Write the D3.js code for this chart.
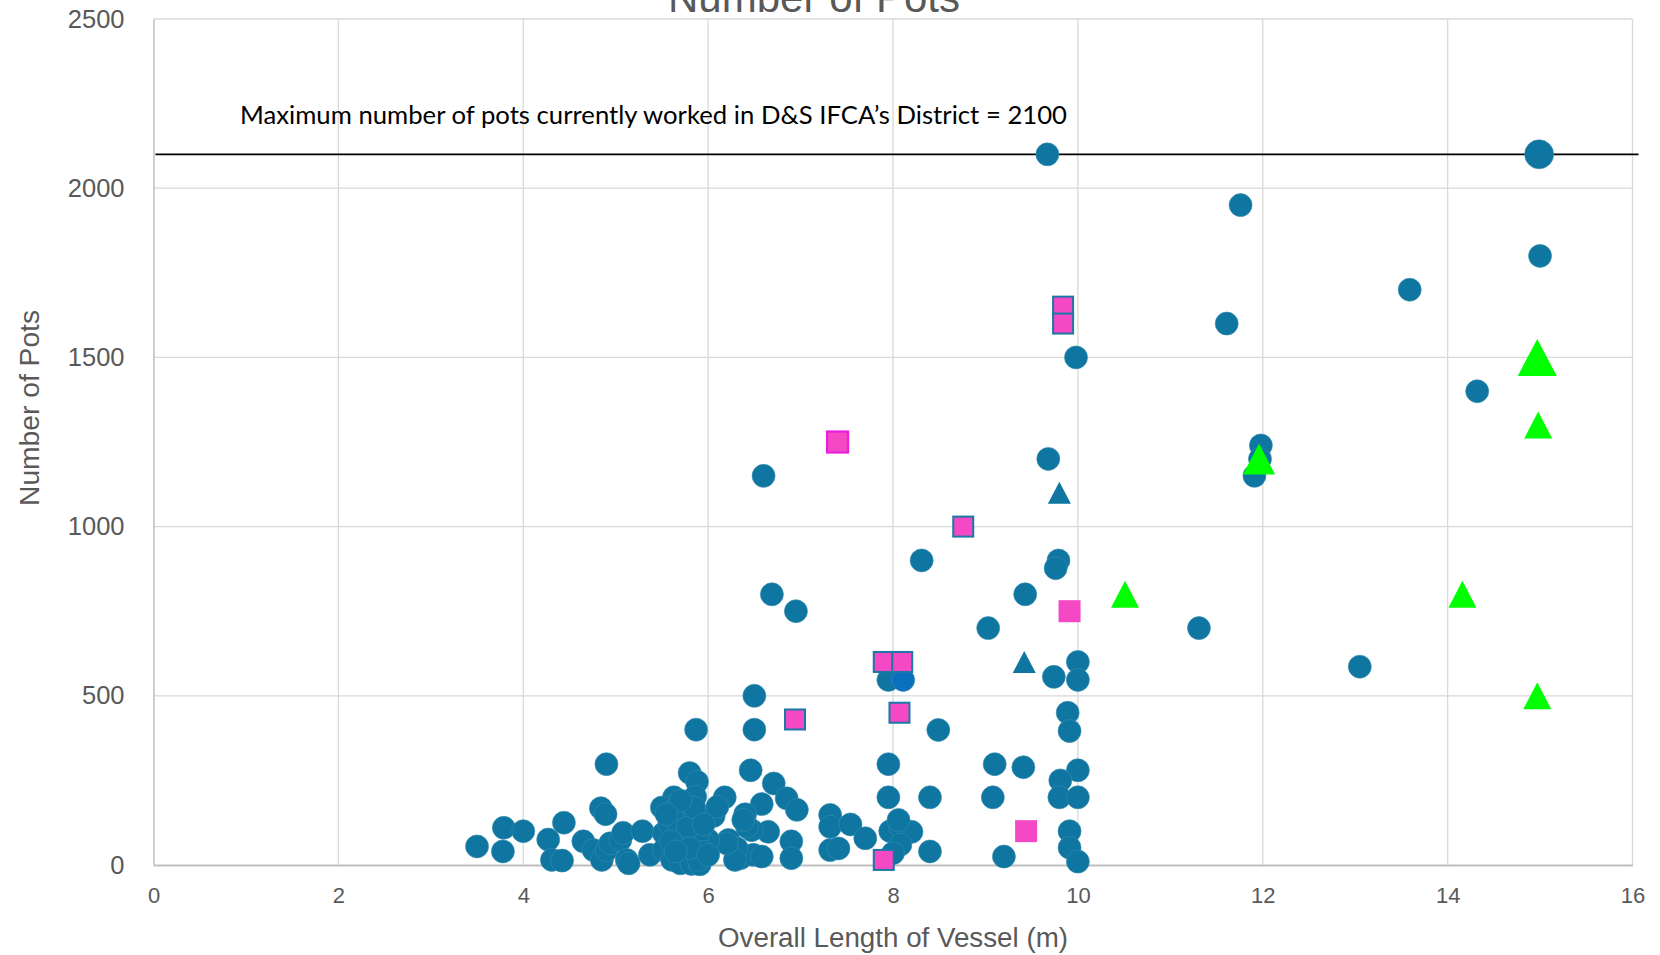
<!DOCTYPE html>
<html>
<head>
<meta charset="utf-8">
<script src="https://cdn.jsdelivr.net/npm/d3@7"></script>
<style>
  html, body { margin: 0; padding: 0; background: #ffffff; }
  svg { display: block; }
</style>
</head>
<body>
<svg id="chart" width="1660" height="955"></svg>
<script>
// Vessel length (m) vs number of pots, one array of [length, pots] per marker series
const potsCircle = [
  [9.67,2100],[11.76,1950],[15,1800],[13.59,1700],[11.61,1600],[9.98,1500],[14.32,1400],
  [11.98,1240],[11.97,1200],[11.91,1150],[9.68,1200],[6.6,1150],
  [8.31,900],[9.79,900],[9.76,877],[9.43,800],[6.69,800],[6.95,750],[9.03,700],[11.31,700],
  [13.05,586],[10,600],[9.74,556],[10,547],[7.95,547],
  [6.5,500],[9.89,450],[9.91,396],[8.49,399],[6.5,400],[5.87,400],
  [4.9,298],[7.95,298],[9.1,298],[9.41,289],[10,280],[6.46,280],[5.8,272],[5.88,246],[9.81,250],[6.71,241],
  [9.8,200],[10,200],[9.08,200],[8.4,200],[7.95,200],[6.18,200],[6.85,197],[5.63,200],[5.86,202],
  [6.96,163],[6.58,180],[6.4,150],[6.06,145],[6.1,172],[5.73,172],[5.5,170],[4.84,168],[4.89,150],
  [9.91,100],[9.91,51],[10,10],[9.2,25],[8.4,40],
  [7.32,148],[7.32,113],[7.54,120],[7.32,44],[7.41,49],[7.7,79],
  [7.97,100],[8.08,113],[8.2,98],[8.08,60],[8.0,35],[8.06,133],
  [6.9,70],[6.9,20],[6.65,98],[6.47,103],[6.22,74],[6.35,20],[6.49,30],[6.58,25],
  [6.42,113],[6.38,133],[6.31,49],[6.29,15],[6.2,64],[6.0,74],
  [3.5,55],[3.78,40],[3.79,110],[4.0,100],[4.27,75],[4.31,15],[4.42,13],[4.44,125],[4.65,70],
  [4.76,44],[4.85,15],[4.9,44],[4.94,64],[5.05,74],[5.08,95],[5.12,15],[5.14,5],[5.29,100],[5.37,30],
  [5.52,94],[5.52,44],[5.61,15],[5.66,133],[5.82,133],[5.9,94],[5.75,64],[5.7,5],[5.82,3],[5.91,2],
  [5.95,39],[5.9,15],[5.58,120],[5.62,160],[5.68,100],[5.78,110],[5.6,70],[5.85,170],[5.7,190],
  [5.95,120],[5.8,50],[5.65,40],[6.0,30],[5.55,150]
];
const potsCircleLarge = [[14.99,2100]];
const potsCircleBlue = [[8.11,547]];
const potsSquare = [[9.84,1650],[9.84,1600],[8.76,1000],[7.9,600],[8.1,600],[6.94,430],[8.07,450],[7.9,15]];
const potsSquarePlain = [[9.91,750],[9.44,100]];
const potsSquareMagenta = [[7.4,1250]];
const potsTriangle = [[9.8,1100],[9.42,600]];
const potsTriangleGreen = [[10.51,800],[14.16,800],[14.97,500],[14.98,1300]];
const potsTriangleGreenMid = [[11.96,1200]];
const potsTriangleGreenLarge = [[14.97,1500]];

const xTicks = [0,2,4,6,8,10,12,14,16];
const yTicks = [0,500,1000,1500,2000,2500];
const maxPots = 2100;

const chartTitle = "Number of Pots";
const xTitle = "Overall Length of Vessel (m)";
const yTitle = "Number of Pots";
const maxLabel = "Maximum number of pots currently worked in D&S IFCA\u2019s District = 2100";

const svg = d3.select("#chart");
const plot = { left: 153.5, right: 1632.5, top: 19, bottom: 865 };

const x = d3.scaleLinear().domain([0,16]).range([plot.left, plot.right]);
const y = d3.scaleLinear().domain([0,2500]).range([plot.bottom, plot.top]);

const grey = "#595959";
const tickFont = "'Liberation Sans', Arial, sans-serif";

// gridlines
const grid = svg.append("g");
grid.selectAll("line.v").data(xTicks.slice(1)).join("line")
  .attr("x1", d => x(d)).attr("x2", d => x(d))
  .attr("y1", plot.top).attr("y2", plot.bottom)
  .attr("stroke", "#d9d9d9").attr("stroke-width", 1.3);
grid.selectAll("line.h").data(yTicks.slice(1)).join("line")
  .attr("x1", plot.left).attr("x2", plot.right)
  .attr("y1", d => y(d)).attr("y2", d => y(d))
  .attr("stroke", "#d9d9d9").attr("stroke-width", 1.3);

// axes
const xAxis = d3.axisBottom(x).tickValues(xTicks).tickSize(0).tickPadding(22).tickFormat(d3.format("d"));
const yAxis = d3.axisLeft(y).tickValues(yTicks).tickSize(0).tickPadding(29).tickFormat(d3.format("d"));

const gx = svg.append("g").attr("transform", `translate(0,${plot.bottom})`).call(xAxis);
gx.select(".domain").attr("stroke", "#bfbfbf").attr("stroke-width", 2);
gx.selectAll("text").attr("fill", grey).attr("font-family", tickFont).attr("font-size", 22)
  .attr("dy", "0.71em");

const gy = svg.append("g").attr("transform", `translate(${plot.left},0)`).call(yAxis);
gy.select(".domain").attr("stroke", "#bfbfbf").attr("stroke-width", 1.5);
gy.selectAll("text").attr("fill", grey).attr("font-family", tickFont).attr("font-size", 25.5);

// maximum pots reference line and label
svg.append("line")
  .attr("x1", plot.left + 2).attr("x2", plot.right + 6)
  .attr("y1", y(maxPots)).attr("y2", y(maxPots))
  .attr("stroke", "#000").attr("stroke-width", 1.6);
svg.append("text")
  .attr("x", 240).attr("y", 124)
  .attr("font-family", "Lato, 'Open Sans', sans-serif").attr("font-size", 25)
  .attr("fill", "#000")
  .attr("textLength", 827).attr("lengthAdjust", "spacingAndGlyphs")
  .text(maxLabel);

// marker layers
const circle = (data, r, fill) => svg.append("g").selectAll("circle").data(data).join("circle")
  .attr("cx", d => x(d[0])).attr("cy", d => y(d[1])).attr("r", r)
  .attr("fill", fill).attr("stroke", "#3b8db0").attr("stroke-width", 0.6);

const square = (data, s, fill, stroke, sw) => svg.append("g").selectAll("rect").data(data).join("rect")
  .attr("x", d => x(d[0]) - s/2).attr("y", d => y(d[1]) - s/2)
  .attr("width", s).attr("height", s)
  .attr("fill", fill).attr("stroke", stroke).attr("stroke-width", sw);

const triangle = (data, w, h, fill) => svg.append("g").selectAll("path").data(data).join("path")
  .attr("d", d => {
    const cx = x(d[0]), cy = y(d[1]);
    return `M${cx},${cy - h/2}L${cx + w/2},${cy + h/2}L${cx - w/2},${cy + h/2}Z`;
  })
  .attr("fill", fill);

circle(potsCircle, 11.5, "#0e76a0");
circle(potsCircleBlue, 11.5, "#0a70bd");
circle(potsCircleLarge, 14.5, "#0e76a0");
square(potsSquare, 20, "#f548c4", "#1a78a6", 2);
square(potsSquarePlain, 22, "#f548c4", "none", 0);
square(potsSquareMagenta, 21, "#f548c4", "#e81fdc", 2.2);
triangle(potsTriangle, 23, 22, "#0e76a0");
triangle(potsTriangleGreen, 28, 27, "#00ff00");
triangle(potsTriangleGreenMid, 32, 31, "#00ff00");
triangle(potsTriangleGreenLarge, 39, 37, "#00ff00");

// titles
const titleFont = "'Liberation Sans Narrow', 'Liberation Sans', Arial, sans-serif";
svg.append("text")
  .attr("x", 814).attr("y", 12).attr("text-anchor", "middle")
  .attr("font-family", titleFont).attr("font-size", 42).attr("fill", grey)
  .attr("textLength", 292).attr("lengthAdjust", "spacingAndGlyphs")
  .text(chartTitle);

svg.append("text")
  .attr("x", 893).attr("y", 947).attr("text-anchor", "middle")
  .attr("font-family", titleFont).attr("font-size", 27).attr("fill", grey)
  .attr("textLength", 350).attr("lengthAdjust", "spacingAndGlyphs")
  .text(xTitle);

svg.append("text")
  .attr("transform", "translate(39,408) rotate(-90)").attr("text-anchor", "middle")
  .attr("font-family", titleFont).attr("font-size", 27).attr("fill", grey)
  .attr("textLength", 196).attr("lengthAdjust", "spacingAndGlyphs")
  .text(yTitle);
</script>
</body>
</html>
